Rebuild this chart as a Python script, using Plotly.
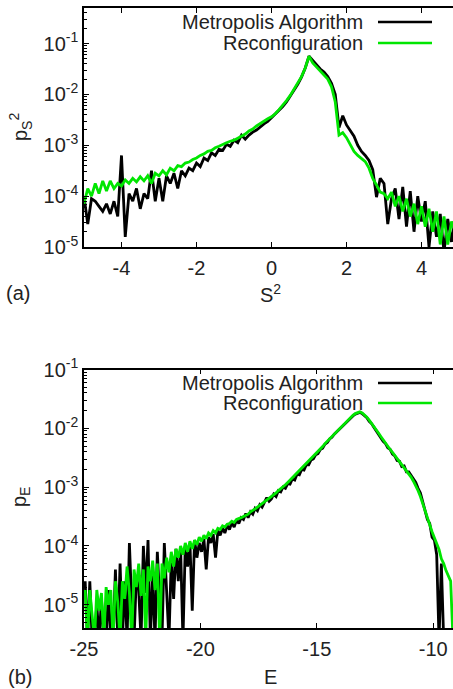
import plotly.graph_objects as go

# ---------------- data (log10 of probability, bin-centre grids) ----------------
S2_START, S2_STEP = -5.0, 0.1
E_START, E_STEP = -24.95, 0.1

logp_S2_metropolis = [
    -4.00, -4.55, -4.05, -4.10, -4.20, -4.30, -4.15, -4.35, -4.10, -4.40,
    -3.20, -4.80, -3.95, -4.10, -3.85, -4.25, -3.95, -4.05, -3.50, -4.10,
    -3.65, -4.10, -3.60, -3.75, -3.55, -3.85, -3.50, -3.60, -3.45, -3.50,
    -3.35, -3.42, -3.25, -3.30, -3.15, -3.20, -3.08, -3.10, -2.98, -3.02,
    -2.90, -2.95, -2.80, -2.88, -2.80, -2.74, -2.70, -2.63, -2.58, -2.53,
    -2.46, -2.40, -2.32, -2.24, -2.15, -2.04, -1.92, -1.80, -1.66, -1.48,
    -1.25, -1.34, -1.43, -1.50, -1.56, -1.65, -1.78, -2.00, -2.65, -2.42,
    -2.60, -2.70, -2.82, -3.00, -3.12, -3.20, -3.30, -3.48, -4.02, -3.65,
    -3.75, -4.55, -4.05, -3.85, -4.45, -3.82, -4.60, -3.90, -4.70, -4.00,
    -4.50, -4.10, -5.00, -4.30, -4.80, -4.35, -5.10, -4.45, -4.90, -4.40,
]
logp_S2_reconf = [
    -4.15, -3.85, -4.00, -3.75, -3.95, -3.70, -3.90, -3.70, -3.85, -3.75,
    -3.80, -3.68, -3.75, -3.65, -3.72, -3.62, -3.70, -3.60, -3.75, -3.55,
    -3.60, -3.50, -3.58, -3.45, -3.50, -3.40, -3.42, -3.35, -3.33, -3.28,
    -3.25, -3.20, -3.17, -3.12, -3.10, -3.05, -3.02, -2.98, -2.95, -2.92,
    -2.90, -2.86, -2.82, -2.78, -2.72, -2.68, -2.62, -2.57, -2.52, -2.48,
    -2.44, -2.38, -2.30, -2.22, -2.12, -2.02, -1.90, -1.78, -1.65, -1.48,
    -1.25, -1.38, -1.46, -1.53, -1.60, -1.70, -1.85, -2.15, -2.80, -2.75,
    -2.85, -3.00, -3.12, -3.20, -3.26, -3.32, -3.45, -3.65, -3.78, -3.92,
    -3.95, -4.05, -3.92, -4.20, -4.00, -4.30, -4.05, -4.40, -4.15, -4.55,
    -4.20, -4.60, -4.25, -4.70, -4.30, -4.95, -4.40, -4.95, -4.50, -4.70,
]

logp_E_metropolis = [
    -4.60, -5.60, -4.60, -5.60, -5.60, -5.00, -5.60, -4.90, -5.60, -5.60,
    -4.75, -5.60, -5.60, -4.40, -5.60, -4.30, -5.60, -4.60, -5.60, -3.95,
    -5.00, -5.60, -4.50, -4.75, -5.60, -4.00, -4.80, -3.90, -5.60, -4.50,
    -5.60, -4.10, -4.90, -5.60, -3.95, -4.70, -5.60, -4.20, -4.90, -4.05,
    -4.60, -4.05, -5.60, -4.00, -4.35, -3.95, -5.10, -3.90, -4.20, -3.95,
    -4.10, -3.88, -4.40, -3.85, -3.95, -3.80, -4.20, -3.74, -3.82, -3.70,
    -3.78, -3.65, -3.72, -3.60, -3.68, -3.56, -3.62, -3.52, -3.55, -3.45,
    -3.52, -3.42, -3.46, -3.36, -3.40, -3.30, -3.34, -3.26, -3.18, -3.24,
    -3.20, -3.12, -3.16, -3.06, -3.08, -3.00, -3.02, -2.94, -2.95, -2.86,
    -2.88, -2.78, -2.79, -2.70, -2.71, -2.62, -2.62, -2.54, -2.52, -2.45,
    -2.43, -2.36, -2.34, -2.27, -2.24, -2.18, -2.15, -2.10, -2.06, -2.02,
    -1.98, -1.94, -1.90, -1.86, -1.82, -1.79, -1.76, -1.74, -1.73, -1.75,
    -1.78, -1.82, -1.88, -1.92, -1.98, -2.04, -2.10, -2.17, -2.22, -2.26,
    -2.33, -2.36, -2.44, -2.47, -2.55, -2.56, -2.65, -2.64, -2.74, -2.74,
    -2.80, -2.86, -2.92, -3.02, -3.10, -3.25, -3.38, -3.55, -3.62, -3.85,
    -3.90, -4.15, -5.60, -4.30, -5.60,
]
logp_E_reconf = [
    -4.75, -5.60, -4.75, -5.30, -5.60, -4.75, -5.10, -4.80, -5.60, -4.70,
    -5.00, -4.75, -5.60, -4.60, -4.95, -5.60, -4.60, -4.90, -4.35, -4.80,
    -5.60, -4.40, -4.70, -4.30, -4.85, -4.40, -5.60, -4.35, -4.60, -4.25,
    -4.75, -4.30, -5.60, -4.30, -4.55, -4.20, -4.45, -4.10, -4.35, -4.05,
    -4.20, -4.00, -4.15, -3.95, -4.10, -3.92, -4.05, -3.90, -3.98, -3.85,
    -3.92, -3.82, -3.88, -3.78, -3.82, -3.74, -3.78, -3.70, -3.72, -3.66,
    -3.68, -3.63, -3.62, -3.58, -3.60, -3.55, -3.54, -3.52, -3.50, -3.48,
    -3.46, -3.42, -3.40, -3.37, -3.34, -3.31, -3.29, -3.26, -3.23, -3.20,
    -3.17, -3.13, -3.10, -3.06, -3.03, -2.99, -2.96, -2.92, -2.88, -2.84,
    -2.80, -2.76, -2.72, -2.68, -2.64, -2.60, -2.56, -2.52, -2.47, -2.43,
    -2.39, -2.35, -2.31, -2.26, -2.22, -2.17, -2.13, -2.09, -2.05, -2.01,
    -1.97, -1.93, -1.89, -1.85, -1.81, -1.78, -1.75, -1.73, -1.72, -1.74,
    -1.77, -1.81, -1.86, -1.91, -1.96, -2.02, -2.08, -2.14, -2.20, -2.26,
    -2.31, -2.36, -2.41, -2.46, -2.52, -2.57, -2.62, -2.67, -2.72, -2.77,
    -2.83, -2.90, -2.97, -3.06, -3.16, -3.28, -3.42, -3.55, -3.66, -3.76,
    -3.86, -3.96, -4.06, -4.22, -4.30, -4.42, -4.50, -4.60, -5.60,
]

series_names = ["Metropolis Algorithm", "Reconfiguration"]
series_colors = ["#000000", "#00e600"]

y_exponents = [-5, -4, -3, -2, -1]
S2_ticks = [-4, -2, 0, 2, 4]
E_ticks = [-25, -20, -15, -10]


def grid(start, step, n):
    return [round(start + step * i, 4) for i in range(n)]


def unlog(vals):
    return [10 ** v for v in vals]


W, H = 453, 689
FONT = "Liberation Sans, Arial, Helvetica, sans-serif"
TXT = "#222222"


def px(x):
    return x / W


def py(y):
    return 1 - y / H


fig = go.Figure()

panels = [
    ("x", "y", S2_START, S2_STEP, [logp_S2_metropolis, logp_S2_reconf]),
    ("x2", "y2", E_START, E_STEP, [logp_E_metropolis, logp_E_reconf]),
]
for xa, ya, start, step, data in panels:
    for name, col, vals in zip(series_names, series_colors, data):
        fig.add_trace(go.Scatter(
            x=grid(start, step, len(vals)), y=unlog(vals), mode="lines",
            line=dict(color=col, width=2.8), name=name, showlegend=False,
            xaxis=xa, yaxis=ya, cliponaxis=True))

minor_vals = [k * 10 ** e for e in range(-6, 0) for k in range(2, 10)]
ytext = [f"10<sup>{e}</sup>" for e in y_exponents]
yvals = [10 ** e for e in y_exponents]

common_x = dict(showline=True, linecolor="black", linewidth=1.5, mirror="ticks",
                ticks="inside", ticklen=5, tickwidth=1.2, tickcolor="black",
                showgrid=False, zeroline=False, automargin=False,
                tickfont=dict(family=FONT, size=20, color=TXT),
                ticklabelstandoff=2)
common_y = dict(type="log", showline=True, linecolor="black", linewidth=1.5,
                mirror=False, ticks="inside", ticklen=5, tickwidth=1.2,
                tickcolor="black", showgrid=False, zeroline=False, automargin=False,
                tickvals=yvals, ticktext=ytext, ticklabelstandoff=0,
                tickfont=dict(family=FONT, size=20, color=TXT),
                minor=dict(ticks="inside", ticklen=3, tickcolor="black",
                           tickmode="array", tickvals=minor_vals, showgrid=False))

fig.update_layout(
    template="none",
    width=W, height=H, margin=dict(l=0, r=0, t=0, b=0, autoexpand=False),
    paper_bgcolor="white", plot_bgcolor="white", showlegend=False,
    xaxis=dict(common_x, domain=[px(84), 1], range=[-5, 4.84], anchor="y",
               tickvals=S2_ticks, ticktext=[str(t) for t in S2_ticks]),
    yaxis=dict(common_y, domain=[py(247), py(8)], range=[-5, -0.301], anchor="x"),
    xaxis2=dict(common_x, domain=[px(84), 1], range=[-25, -9.15], anchor="y2",
                tickvals=E_ticks, ticktext=[str(t) for t in E_ticks]),
    yaxis2=dict(common_y, domain=[py(628), py(369.5)], range=[-5.396, -1], anchor="x2"),
)

ann = []
shapes = []
f20 = dict(family=FONT, size=20, color=TXT)
# axis titles and panel labels
ann.append(dict(text="S<sup>2</sup>", x=px(270), y=py(293), xref="paper", yref="paper",
                showarrow=False, font=f20, xanchor="center", yanchor="middle"))
ann.append(dict(text="E", x=px(270), y=py(677), xref="paper", yref="paper",
                showarrow=False, font=f20, xanchor="center", yanchor="middle"))
ann.append(dict(text="(a)", x=px(4), y=py(293), xref="paper", yref="paper",
                showarrow=False, font=f20, xanchor="left", yanchor="middle"))
ann.append(dict(text="(b)", x=px(6), y=py(677), xref="paper", yref="paper",
                showarrow=False, font=f20, xanchor="left", yanchor="middle"))
ann.append(dict(text="p<sub>S</sub><sup>2</sup>", x=px(20), y=py(127), xref="paper",
                yref="paper", showarrow=False, font=f20, textangle=-90,
                xanchor="center", yanchor="middle"))
ann.append(dict(text="p<sub>E</sub>", x=px(20), y=py(497), xref="paper", yref="paper",
                showarrow=False, font=f20, textangle=-90, xanchor="center",
                yanchor="middle"))
# legends (gnuplot style: text then sample)
for ys in ([22, 43], [383, 403]):
    for name, col, yy in zip(series_names, series_colors, ys):
        ann.append(dict(text=name, x=px(365), y=py(yy), xref="paper", yref="paper",
                        showarrow=False, font=f20, xanchor="right", yanchor="middle"))
        shapes.append(dict(type="line", xref="paper", yref="paper",
                           x0=px(378), x1=px(432), y0=py(yy), y1=py(yy),
                           line=dict(color=col, width=2.5)))

fig.update_layout(annotations=ann, shapes=shapes)
fig.write_html("out.html")
